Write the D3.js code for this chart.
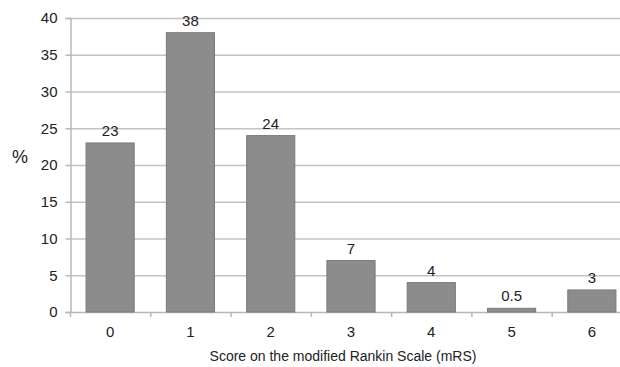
<!DOCTYPE html>
<html><head><meta charset="utf-8">
<script src="https://cdn.jsdelivr.net/npm/d3@7"></script>
<style>body{margin:0;background:#fff}svg{display:block}text{font-family:"Liberation Sans",Arial,sans-serif}</style>
</head><body><svg id="c" width="620" height="367"></svg>
<script>
const categories = ["0","1","2","3","4","5","6"];
const values = [23,38,24,7,4,0.5,3];
const valueLabels = ["23","38","24","7","4","0.5","3"];
const yTicks = [0,5,10,15,20,25,30,35,40];

(function(){
const svg = d3.select("#c");
const mLeft = 70, mRight = 632, mTop = 18, mBottom = 312;
const x = d3.scaleBand().domain(categories).range([mLeft, mRight]).paddingInner(0.4).paddingOuter(0.2);
const xOuter = d3.scaleBand().domain(categories).range([mLeft, mRight]);
const y = d3.scaleLinear().domain([0,40]).range([mBottom, mTop]);

// gridlines
svg.append("g").selectAll("line").data(yTicks.filter(d=>d>0)).join("line")
  .attr("x1", mLeft).attr("x2", 620).attr("y1", d=>y(d)+0.5).attr("y2", d=>y(d)+0.5)
  .attr("stroke", "#c4c4c4").attr("stroke-width", 1.5);

// y axis
const ya = svg.append("g").attr("transform", `translate(${mLeft+0.5},0)`)
  .call(d3.axisLeft(y).tickValues(yTicks).tickSize(5).tickPadding(8));
ya.select(".domain").attr("stroke", "#b8b8b8").attr("stroke-width", 1.5);
ya.selectAll(".tick line").attr("stroke", "#b8b8b8").attr("stroke-width", 1.5);
ya.selectAll(".tick text").attr("font-size", 15).attr("fill", "#222");

// x axis
const xa = svg.append("g").attr("transform", `translate(0,${mBottom+0.5})`)
  .call(d3.axisBottom(xOuter).tickSize(0).tickPadding(14));
xa.select(".domain").remove();
xa.selectAll(".tick text").attr("font-size", 15).attr("fill", "#222");
svg.append("line").attr("x1", mLeft).attr("x2", 620).attr("y1", mBottom+0.5).attr("y2", mBottom+0.5)
  .attr("stroke", "#b8b8b8").attr("stroke-width", 1.5);
svg.append("g").selectAll("line").data(categories).join("line")
  .attr("x1", d=>xOuter(d)+0.5).attr("x2", d=>xOuter(d)+0.5)
  .attr("y1", mBottom).attr("y2", mBottom+5)
  .attr("stroke", "#b8b8b8").attr("stroke-width", 1.5);

// bars
svg.append("g").selectAll("rect").data(values).join("rect")
  .attr("x", (d,i)=>x(categories[i])).attr("width", x.bandwidth())
  .attr("y", d=>y(d)).attr("height", d=>mBottom - y(d))
  .attr("fill", "#8c8c8c").attr("stroke", "#7a7a7a").attr("stroke-width", 1);

// value labels
svg.append("g").selectAll("text").data(values).join("text")
  .attr("x", (d,i)=>x(categories[i]) + x.bandwidth()/2).attr("y", d=>y(d)-7)
  .attr("text-anchor", "middle").attr("font-size", 15).attr("fill", "#222")
  .text((d,i)=>valueLabels[i]);

svg.append("text").attr("x", 20).attr("y", 163).attr("text-anchor","middle")
  .attr("font-size", 18).attr("fill","#222").text("%");
svg.append("text").attr("x", 343).attr("y", 361).attr("text-anchor","middle")
  .attr("font-size", 14).attr("fill","#222").text("Score on the modified Rankin Scale (mRS)");
})();
</script></body></html>
